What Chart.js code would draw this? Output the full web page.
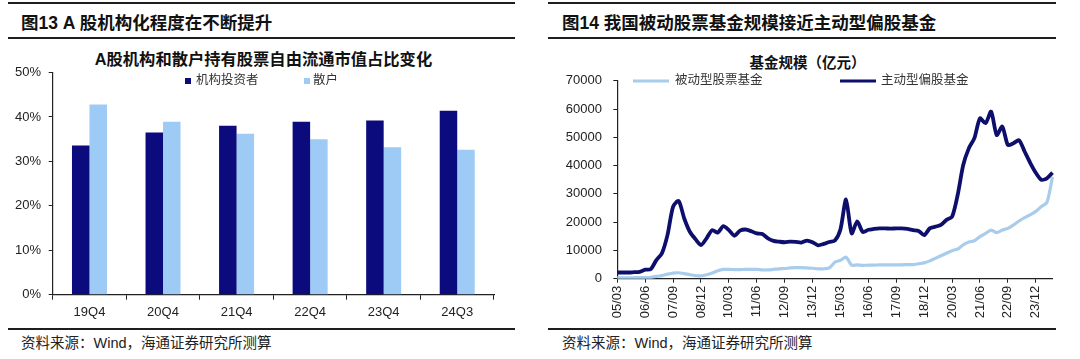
<!DOCTYPE html>
<html><head><meta charset="utf-8">
<script src="https://cdn.jsdelivr.net/npm/chart.js@4.4.1/dist/chart.umd.min.js"></script>
<style>
html,body{margin:0;padding:0;background:#fff;}
body{width:1080px;height:359px;position:relative;overflow:hidden;font-family:"Liberation Sans","Noto Sans CJK SC",sans-serif;}
.rule{position:absolute;height:2px;background:#1e1e1e;}
.ttl{position:absolute;font-size:17.5px;font-weight:bold;line-height:24px;color:#111;white-space:nowrap;}
.ctitle{position:absolute;font-weight:bold;color:#111;text-align:center;white-space:nowrap;}
.src{position:absolute;font-size:14.5px;line-height:20px;color:#222;white-space:nowrap;}
canvas{position:absolute;top:0;}
</style></head>
<body>
<div class="rule" style="left:8px;top:2px;width:507px"></div>
<div class="ttl" style="left:21px;top:10.5px">图13 A 股机构化程度在不断提升</div>
<div class="rule" style="left:8px;top:36.5px;width:507px"></div>
<div class="ctitle" style="left:0;width:527px;top:48px;font-size:16.3px;line-height:22px">A股机构和散户持有股票自由流通市值占比变化</div>
<div class="rule" style="left:8px;top:328px;width:507px"></div>
<div class="src" style="left:21px;top:333px">资料来源：Wind，海通证券研究所测算</div>
<canvas id="c1" width="530" height="330" style="left:0"></canvas>

<div class="rule" style="left:548px;top:2px;width:508px"></div>
<div class="ttl" style="left:562px;top:10.5px">图14 我国被动股票基金规模接近主动型偏股基金</div>
<div class="rule" style="left:548px;top:36.5px;width:508px"></div>
<div class="ctitle" style="left:540px;width:535px;top:52px;font-size:14.5px;line-height:22px">基金规模（亿元）</div>
<div class="rule" style="left:548px;top:328px;width:508px"></div>
<div class="src" style="left:562px;top:333px">资料来源：Wind，海通证券研究所测算</div>
<canvas id="c2" width="540" height="330" style="left:540px"></canvas>

<script>
// ---- Figure 13 data (percent of free-float market cap) ----
const barCategories = ['19Q4', '20Q4', '21Q4', '22Q4', '23Q4', '24Q3'];
const institutional = [33.6, 36.5, 38.0, 38.9, 39.2, 41.4];
const retail = [42.8, 38.9, 36.2, 35.0, 33.2, 32.6];
const pctTicks = [0, 10, 20, 30, 40, 50];

// ---- Figure 14 data (fund size, 100 million CNY), quarterly ----
const fundDates = [
 '05/03','05/06','05/09','05/12','06/03','06/06','06/09','06/12',
 '07/03','07/06','07/09','07/12','08/03','08/06','08/09','08/12',
 '09/03','09/06','09/09','09/12','10/03','10/06','10/09','10/12',
 '11/03','11/06','11/09','11/12','12/03','12/06','12/09','12/12',
 '13/03','13/06','13/09','13/12','14/03','14/06','14/09','14/12',
 '15/03','15/06','15/09','15/12','16/03','16/06','16/09','16/12',
 '17/03','17/06','17/09','17/12','18/03','18/06','18/09','18/12',
 '19/03','19/06','19/09','19/12','20/03','20/06','20/09','20/12',
 '21/03','21/06','21/09','21/12','22/03','22/06','22/09','22/12',
 '23/03','23/06','23/09','23/12','24/03','24/06','24/09'
];
const passiveFunds = [
 300,300,300,350,400, 400,500,800,1100,1600,
 2000,2100,1800,1400,1100, 1000,1400,2000,2800,3300,
 3300,3200,3200,3300,3300, 3300,3100,3100,3300,3500,
 3600,3800,3900,3900,3800, 3700,3500,3500,3800,5800,
 6500,7600,4800,4900,4700, 4800,4800,4900,4900,4900,
 4900,4900,5000,5000,5300, 5600,6300,7200,8100,9000,
 9900,10500,12000,13000,13400, 14900,16000,17200,16300,17200,
 17800,19000,20400,21600,22600, 23800,25500,27000,36000
];
const activeFunds = [
 2200,2200,2200,2300,2400, 3200,3400,6600,9000,15500,
 25500,27500,21300,16600,14000, 11900,14300,17200,16300,18600,
 17200,15200,17000,17400,16800, 16000,15800,14300,13400,13100,
 12900,13100,13000,12800,13500, 12900,11800,12300,13000,13500,
 17500,28000,16000,20300,16500, 17300,17600,17800,17800,17700,
 17800,17800,17600,17200,16900, 15400,17800,18400,19000,20800,
 21900,29600,40200,46100,49700, 56700,55000,59100,50800,53800,
 47300,47900,49000,45000,41000, 37500,35000,35500,37500
];
const fundTicks = [0, 10000, 20000, 30000, 40000, 50000, 60000, 70000];

const DARK_BAR = '#0b0b7d';
const LIGHT_BAR = '#9dcbf5';
const DARK_LINE = '#0e0e6c';
const LIGHT_LINE = '#a8cdec';
const AXIS = '#222';
const FAMILY = '"Liberation Sans","Noto Sans CJK SC",sans-serif';

const legendPlugin = {
  id: 'manualLegend',
  afterDraw(chart, args, opts) {
    const ctx = chart.ctx;
    ctx.save();
    ctx.font = opts.font;
    ctx.textBaseline = 'middle';
    ctx.textAlign = 'left';
    chart.data.datasets.forEach((ds, i) => {
      const it = opts.items[i];
      if (opts.type === 'box') {
        ctx.fillStyle = ds.backgroundColor;
        ctx.fillRect(it.x, opts.y - opts.size / 2, opts.size, opts.size);
      } else {
        ctx.strokeStyle = ds.borderColor;
        ctx.lineWidth = opts.lineWidth;
        ctx.beginPath();
        ctx.moveTo(it.x, opts.y);
        ctx.lineTo(it.x + opts.len, opts.y);
        ctx.stroke();
      }
      ctx.fillStyle = opts.color;
      ctx.fillText(ds.label, it.textX, opts.y);
    });
    ctx.restore();
  }
};

new Chart(document.getElementById('c1'), {
  type: 'bar',
  data: {
    labels: barCategories,
    datasets: [
      { label: '机构投资者', data: institutional, backgroundColor: DARK_BAR, categoryPercentage: 0.476, barPercentage: 1 },
      { label: '散户', data: retail, backgroundColor: LIGHT_BAR, categoryPercentage: 0.476, barPercentage: 1 }
    ]
  },
  options: {
    responsive: false, animation: false,
    layout: { padding: { top: 72.5, right: 36, left: 0, bottom: 0 } },
    plugins: {
      legend: { display: false }, tooltip: { enabled: false },
      manualLegend: {
        type: 'box', y: 81, size: 6, font: '12.5px ' + FAMILY, color: '#333',
        items: [{ x: 185, textX: 196 }, { x: 304, textX: 313 }]
      }
    },
    scales: {
      x: {
        grid: { display: true, drawOnChartArea: false, drawTicks: true, tickLength: 5, color: AXIS, offset: true },
        border: { display: true, color: AXIS, width: 1.2 },
        ticks: { font: { size: 13, family: FAMILY }, color: '#222', padding: 4.5 },
        afterFit: s => { s.height = 35.3; }
      },
      y: {
        min: 0, max: 50,
        afterBuildTicks: s => { s.ticks = pctTicks.map(v => ({ value: v })); },
        grid: { display: true, drawOnChartArea: false, drawTicks: true, tickLength: 4, color: AXIS },
        border: { display: true, color: AXIS, width: 1.2 },
        ticks: { font: { size: 13, family: FAMILY }, color: '#222', padding: 7.7, callback: v => v + '%' },
        afterFit: s => { s.width = 52.7; }
      }
    }
  },
  plugins: [legendPlugin]
});

new Chart(document.getElementById('c2'), {
  type: 'line',
  data: {
    labels: fundDates,
    datasets: [
      { label: '被动型股票基金', data: passiveFunds, borderColor: LIGHT_LINE, borderWidth: 3.2, pointRadius: 0, tension: 0.25, fill: false, order: 1 },
      { label: '主动型偏股基金', data: activeFunds, borderColor: DARK_LINE, borderWidth: 3.8, pointRadius: 0, tension: 0.25, fill: false, order: 0 }
    ]
  },
  options: {
    responsive: false, animation: false,
    layout: { padding: { top: 80.8, right: 27.5, left: 0, bottom: 0 } },
    plugins: {
      legend: { display: false }, tooltip: { enabled: false },
      manualLegend: {
        type: 'line', y: 81, len: 36, lineWidth: 3, font: '12.5px ' + FAMILY, color: '#333',
        items: [{ x: 93, textX: 135 }, { x: 300, textX: 341 }]
      }
    },
    scales: {
      x: {
        offset: false,
        grid: {
          display: true, drawOnChartArea: false, drawTicks: true, tickLength: 4,
          color: ctx => (ctx.index % 5 === 0 ? AXIS : 'rgba(0,0,0,0)')
        },
        border: { display: true, color: AXIS, width: 1.2 },
        ticks: {
          autoSkip: false, maxRotation: 90, minRotation: 90, padding: 3,
          font: { size: 13, family: FAMILY }, color: '#222',
          callback: function (v, i) { return i % 5 === 0 ? this.getLabelForValue(v) : ''; }
        },
        afterFit: s => { s.height = 51.3; }
      },
      y: {
        min: 0, max: 70000,
        afterBuildTicks: s => { s.ticks = fundTicks.map(v => ({ value: v })); },
        grid: { display: true, drawOnChartArea: false, drawTicks: true, tickLength: 4, color: AXIS },
        border: { display: true, color: AXIS, width: 1.2 },
        ticks: { font: { size: 13, family: FAMILY }, color: '#222', padding: 11.3, callback: v => String(v) },
        afterFit: s => { s.width = 77.3; }
      }
    }
  },
  plugins: [legendPlugin]
});
</script>
</body></html>
